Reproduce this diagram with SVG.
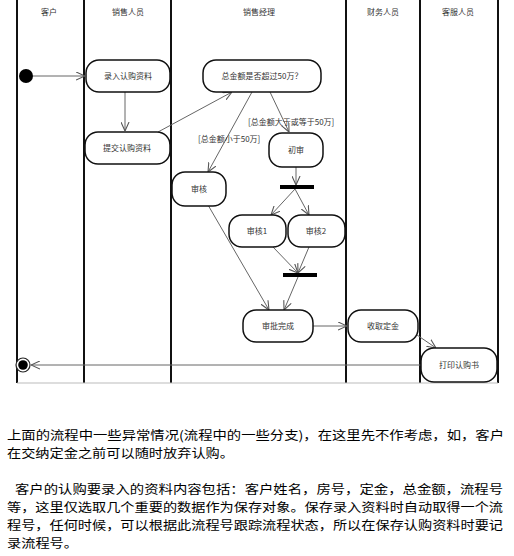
<svg xmlns="http://www.w3.org/2000/svg" width="514" height="556" viewBox="0 0 514 556">
<style>
.lane{stroke:#111;stroke-width:2;fill:none}
.node rect{fill:#fff;stroke:#111;stroke-width:1.5}
.t{font-family:"Noto Sans CJK SC","Liberation Sans",sans-serif;font-size:8px;fill:#333;text-anchor:middle}
.lbl{font-family:"Noto Sans CJK SC","Liberation Sans",sans-serif;font-size:8px;fill:#333}
.c line{stroke:#666;stroke-width:1;marker-end:url(#arr)}
.p{font-family:"Noto Sans CJK SC",sans-serif;font-size:12.4px;fill:#000}
</style>
<defs>
<marker id="arr" viewBox="0 0 10 10" refX="10" refY="5" markerWidth="9" markerHeight="9" markerUnits="userSpaceOnUse" orient="auto">
<path d="M0,0.5 L10,5 L0,9.5" fill="none" stroke="#555" stroke-width="1.2"/>
</marker>
</defs>
<rect width="514" height="556" fill="#fff"/>
<g id="lanes">
<line class="lane" x1="17" y1="0" x2="17" y2="383"/>
<line class="lane" x1="84" y1="0" x2="84" y2="383"/>
<line class="lane" x1="171" y1="0" x2="171" y2="383"/>
<line class="lane" x1="346" y1="0" x2="346" y2="383"/>
<line class="lane" x1="420" y1="0" x2="420" y2="383"/>
<line class="lane" x1="498" y1="0" x2="498" y2="383"/>
<line x1="17" y1="383" x2="498" y2="383" stroke="#bbb" stroke-width="1"/>
<text class="t" x="49" y="15">客户</text>
<text class="t" x="128" y="15">销售人员</text>
<text class="t" x="259" y="15">销售经理</text>
<text class="t" x="383" y="15">财务人员</text>
<text class="t" x="458" y="15">客服人员</text>
</g>
<g class="c" id="connectors">
<line x1="33" y1="76" x2="85" y2="76"/>
<line x1="125" y1="92" x2="125" y2="131"/>
<line x1="158" y1="132" x2="232" y2="92"/>
<line x1="252" y1="92" x2="208" y2="172"/>
<line x1="270" y1="92" x2="289" y2="132"/>
<line x1="296" y1="167" x2="296" y2="185"/>
<line x1="295" y1="189" x2="271" y2="215"/>
<line x1="295" y1="189" x2="309" y2="215"/>
<line x1="273" y1="247" x2="298" y2="273"/>
<line x1="309" y1="247" x2="298" y2="273"/>
<line x1="298" y1="277" x2="284" y2="310"/>
<line x1="208" y1="205" x2="269" y2="310"/>
<line x1="313" y1="326" x2="347" y2="326"/>
<line x1="417" y1="335" x2="436" y2="348"/>
<line x1="421" y1="365" x2="31" y2="365"/>
<text class="lbl" x="198" y="142">[总金额小于50万]</text>
<text class="lbl" x="248" y="125">[总金额大于或等于50万]</text>
</g>
<g id="start"><circle cx="26" cy="76" r="7" fill="#000"/></g>
<g id="end"><circle cx="23" cy="365" r="7" fill="#fff" stroke="#222" stroke-width="1.2"/><circle cx="23" cy="365" r="4.8" fill="#000"/></g>
<g id="n1" class="node"><rect x="86" y="60" width="84" height="32" rx="13"/><text class="t" x="128" y="79">录入认购资料</text></g>
<g id="n2" class="node"><rect x="85" y="132" width="85" height="32" rx="13"/><text class="t" x="127" y="151">提交认购资料</text></g>
<g id="n3" class="node"><rect x="203" y="60" width="118" height="32" rx="13"/><text class="t" x="262" y="79">总金额是否超过50万？</text></g>
<g id="n4" class="node"><rect x="269" y="133" width="54" height="34" rx="13"/><text class="t" x="296" y="153">初审</text></g>
<g id="n5" class="node"><rect x="172" y="172" width="54" height="34" rx="13"/><text class="t" x="199" y="192">审核</text></g>
<g id="fork"><rect x="280" y="185" width="34" height="4" fill="#000"/></g>
<g id="n6" class="node"><rect x="229" y="215" width="57" height="32" rx="13"/><text class="t" x="257" y="234">审核1</text></g>
<g id="n7" class="node"><rect x="288" y="215" width="57" height="32" rx="13"/><text class="t" x="316" y="234">审核2</text></g>
<g id="join"><rect x="283" y="273" width="34" height="4" fill="#000"/></g>
<g id="n8" class="node"><rect x="243" y="310" width="70" height="32" rx="13"/><text class="t" x="278" y="329">审批完成</text></g>
<g id="n9" class="node"><rect x="348" y="310" width="70" height="32" rx="13"/><text class="t" x="383" y="329">收取定金</text></g>
<g id="n10" class="node"><rect x="421" y="348" width="76" height="34" rx="13"/><text class="t" x="459" y="368">打印认购书</text></g>
<g id="para">
<text class="p" x="7" y="440" textLength="497" lengthAdjust="spacingAndGlyphs">上面的流程中一些异常情况(流程中的一些分支)，在这里先不作考虑，如，客户</text>
<text class="p" x="7" y="458" textLength="227" lengthAdjust="spacingAndGlyphs">在交纳定金之前可以随时放弃认购。</text>
<text class="p" x="15" y="494" textLength="488" lengthAdjust="spacingAndGlyphs">客户的认购要录入的资料内容包括：客户姓名，房号，定金，总金额，流程号</text>
<text class="p" x="7" y="512" textLength="496" lengthAdjust="spacingAndGlyphs">等，这里仅选取几个重要的数据作为保存对象。保存录入资料时自动取得一个流</text>
<text class="p" x="7" y="530" textLength="496" lengthAdjust="spacingAndGlyphs">程号，任何时候，可以根据此流程号跟踪流程状态，所以在保存认购资料时要记</text>
<text class="p" x="7" y="548" textLength="71" lengthAdjust="spacingAndGlyphs">录流程号。</text>
</g>
</svg>
